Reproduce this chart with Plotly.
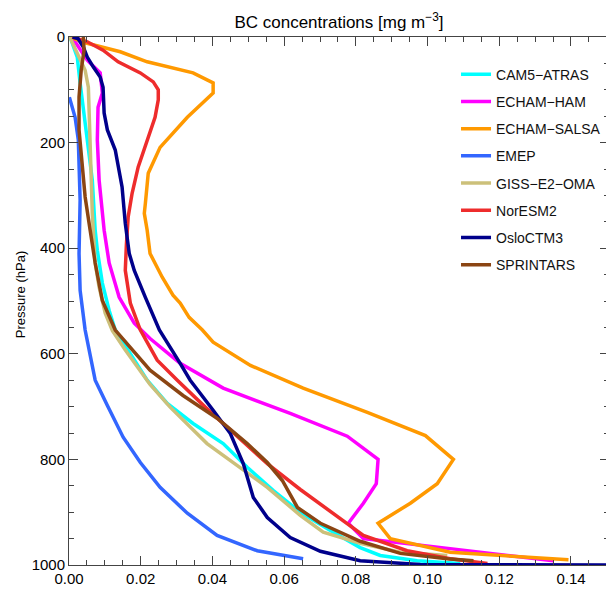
import plotly.graph_objects as go

# ---------------- data (BC concentration [mg m-3] vs pressure [hPa]) ----------------
cam5_p = [0, 38, 87, 138, 195, 271, 366, 404, 466, 518, 555, 650, 694, 732, 770, 815, 859, 900, 935, 967, 982, 992, 997]
cam5_x = [0.0003, 0.0023, 0.0031, 0.0040, 0.0051, 0.0065, 0.0073, 0.0079, 0.0093, 0.0112, 0.0129, 0.0218, 0.0274,
          0.0346, 0.0430, 0.0497, 0.0570, 0.0645, 0.0730, 0.0812, 0.0868, 0.0971, 0.1091]

ham_p = [2, 9, 44, 68, 106, 133, 195, 271, 366, 428, 493, 542, 571, 618, 665, 713, 756, 800, 846, 883, 921, 950, 969, 992]
ham_x = [0.0003, 0.0017, 0.0051, 0.0087, 0.0093, 0.0081, 0.0079, 0.0084, 0.0098, 0.0112, 0.0140, 0.0182, 0.0226,
         0.0310, 0.0430, 0.0617, 0.0776, 0.0862, 0.0857, 0.0821, 0.0779, 0.0821, 0.1063, 0.1351]

salsa_p = [0, 11, 28, 47, 68, 87, 106, 152, 209, 258, 315, 334, 366, 410, 455, 489, 504, 531, 555, 578, 622, 665,
           711, 755, 800, 846, 883, 921, 950, 976, 990]
salsa_x = [0.0003, 0.0045, 0.0143, 0.0218, 0.0346, 0.0402, 0.0402, 0.0330, 0.0254, 0.0221, 0.0213, 0.0210, 0.0218,
           0.0226, 0.0260, 0.0290, 0.0310, 0.0335, 0.0372, 0.0402, 0.0506, 0.0653, 0.0832, 0.0994, 0.1072, 0.1027,
           0.0952, 0.0862, 0.0896, 0.1063, 0.1393]

emep_p = [114, 152, 195, 309, 410, 480, 555, 650, 698, 758, 806, 853, 902, 944, 973, 988]
emep_x = [0.0001, 0.0017, 0.0026, 0.0031, 0.0028, 0.0031, 0.0045, 0.0073, 0.0107, 0.0151, 0.0199, 0.0254, 0.0330,
          0.0413, 0.0525, 0.0653]

giss_p = [0, 63, 95, 144, 239, 334, 428, 474, 523, 556, 593, 658, 701, 770, 806, 853, 906, 938, 959, 976, 982]
giss_x = [0.0002, 0.0045, 0.0054, 0.0056, 0.0059, 0.0065, 0.0073, 0.0084, 0.0101, 0.0121, 0.0157, 0.0226, 0.0282,
          0.0385, 0.0458, 0.0553, 0.0645, 0.0709, 0.0812, 0.0924, 0.1055]

nor_p = [0, 9, 25, 47, 68, 85, 100, 119, 152, 195, 246, 296, 341, 394, 442, 504, 555, 588, 612, 650, 701, 758, 808,
         857, 902, 944, 973, 988, 997]
nor_x = [0.0009, 0.0051, 0.0095, 0.0137, 0.0199, 0.0235, 0.0249, 0.0249, 0.0240, 0.0218, 0.0193, 0.0176, 0.0165,
         0.0160, 0.0157, 0.0171, 0.0199, 0.0226, 0.0246, 0.0302, 0.0380, 0.0472, 0.0553, 0.0645, 0.0737, 0.0821,
         0.0943, 0.1063, 0.1167]

oslo_p = [0, 3, 19, 38, 57, 76, 95, 144, 176, 214, 284, 353, 410, 442, 493, 555, 618, 650, 707, 751, 808, 872, 910,
          948, 974, 992, 999, 1000]
oslo_x = [0.0010, 0.0025, 0.0040, 0.0051, 0.0068, 0.0087, 0.0095, 0.0098, 0.0107, 0.0129, 0.0148, 0.0157, 0.0168,
          0.0182, 0.0213, 0.0252, 0.0310, 0.0338, 0.0402, 0.0450, 0.0486, 0.0514, 0.0553, 0.0617, 0.0701, 0.0812,
          0.0980, 0.1520]

spr_p = [0, 25, 63, 114, 176, 239, 303, 366, 428, 499, 555, 631, 679, 722, 770, 806, 840, 891, 921, 955, 978, 988, 992]
spr_x = [0.0040, 0.0042, 0.0034, 0.0028, 0.0028, 0.0037, 0.0045, 0.0059, 0.0073, 0.0093, 0.0129, 0.0226, 0.0318,
         0.0413, 0.0497, 0.0553, 0.0595, 0.0637, 0.0701, 0.0812, 0.0924, 0.1055, 0.1128]

names = ["CAM5−ATRAS", "ECHAM−HAM", "ECHAM−SALSA", "EMEP", "GISS−E2−OMA", "NorESM2", "OsloCTM3", "SPRINTARS"]
colors = ["#00FFFF", "#FF00FF", "#FF9900", "#3366FF", "#CCC07A", "#EE2C2C", "#00008B", "#8B4513"]
series = [(cam5_x, cam5_p), (ham_x, ham_p), (salsa_x, salsa_p), (emep_x, emep_p), (giss_x, giss_p),
          (nor_x, nor_p), (oslo_x, oslo_p), (spr_x, spr_p)]

x_ticks = [0.00, 0.02, 0.04, 0.06, 0.08, 0.10, 0.12, 0.14]
y_ticks = [0, 200, 400, 600, 800, 1000]

FONT = "Liberation Sans, Arial, Helvetica, sans-serif"
AX = "#444444"

fig = go.Figure()
for name, col, (xs, ps) in zip(names, colors, series):
    fig.add_trace(go.Scatter(x=xs, y=ps, mode="lines", name=name, legendgroup=name,
                             line=dict(color=col, width=3.5), hoverinfo="skip"))

axis_common = dict(showline=True, linecolor=AX, linewidth=1, mirror="allticks", ticks="inside",
                   tickcolor=AX, tickwidth=1, ticklen=9, showgrid=False, zeroline=False,
                   tickfont=dict(family=FONT, size=15, color="black"))

fig.update_xaxes(range=[0, 0.1506], tickvals=x_ticks, ticktext=[f"{v:.2f}" for v in x_ticks],
                 minor=dict(dtick=0.005, tick0=0, ticks="inside", ticklen=5, tickcolor=AX, showgrid=False),
                 **axis_common)
fig.update_yaxes(range=[1000, 0], tickvals=y_ticks, ticktext=[str(v) for v in y_ticks],
                 minor=dict(dtick=50, tick0=0, ticks="inside", ticklen=5, tickcolor=AX, showgrid=False),
                 **axis_common)

# page body has an 8px default margin, so the figure is sized/offset to compensate
fig.update_layout(
    width=606, height=585,
    margin=dict(l=61, r=5, t=29, b=28),
    paper_bgcolor="white", plot_bgcolor="white",
    font=dict(family=FONT, color="black"),
    title=dict(text="BC concentrations [mg m<sup>−3</sup>]", xref="paper", x=0.5, xanchor="center",
               y=1 - 14 / 585, yanchor="middle", font=dict(family=FONT, size=17, color="black")),
    showlegend=True,
    legend=dict(x=0.7167, xanchor="left", y=0.959, yanchor="top", bgcolor="rgba(0,0,0,0)",
                borderwidth=0, traceorder="grouped", tracegroupgap=6,
                font=dict(family=FONT, size=14, color="#111111")),
    annotations=[dict(text="Pressure (hPa)", xref="paper", yref="paper", x=-0.0907, y=0.511,
                      xanchor="center", yanchor="middle", textangle=-90, showarrow=False,
                      font=dict(family=FONT, size=13, color="black"))],
)

fig.write_html("out.html")
